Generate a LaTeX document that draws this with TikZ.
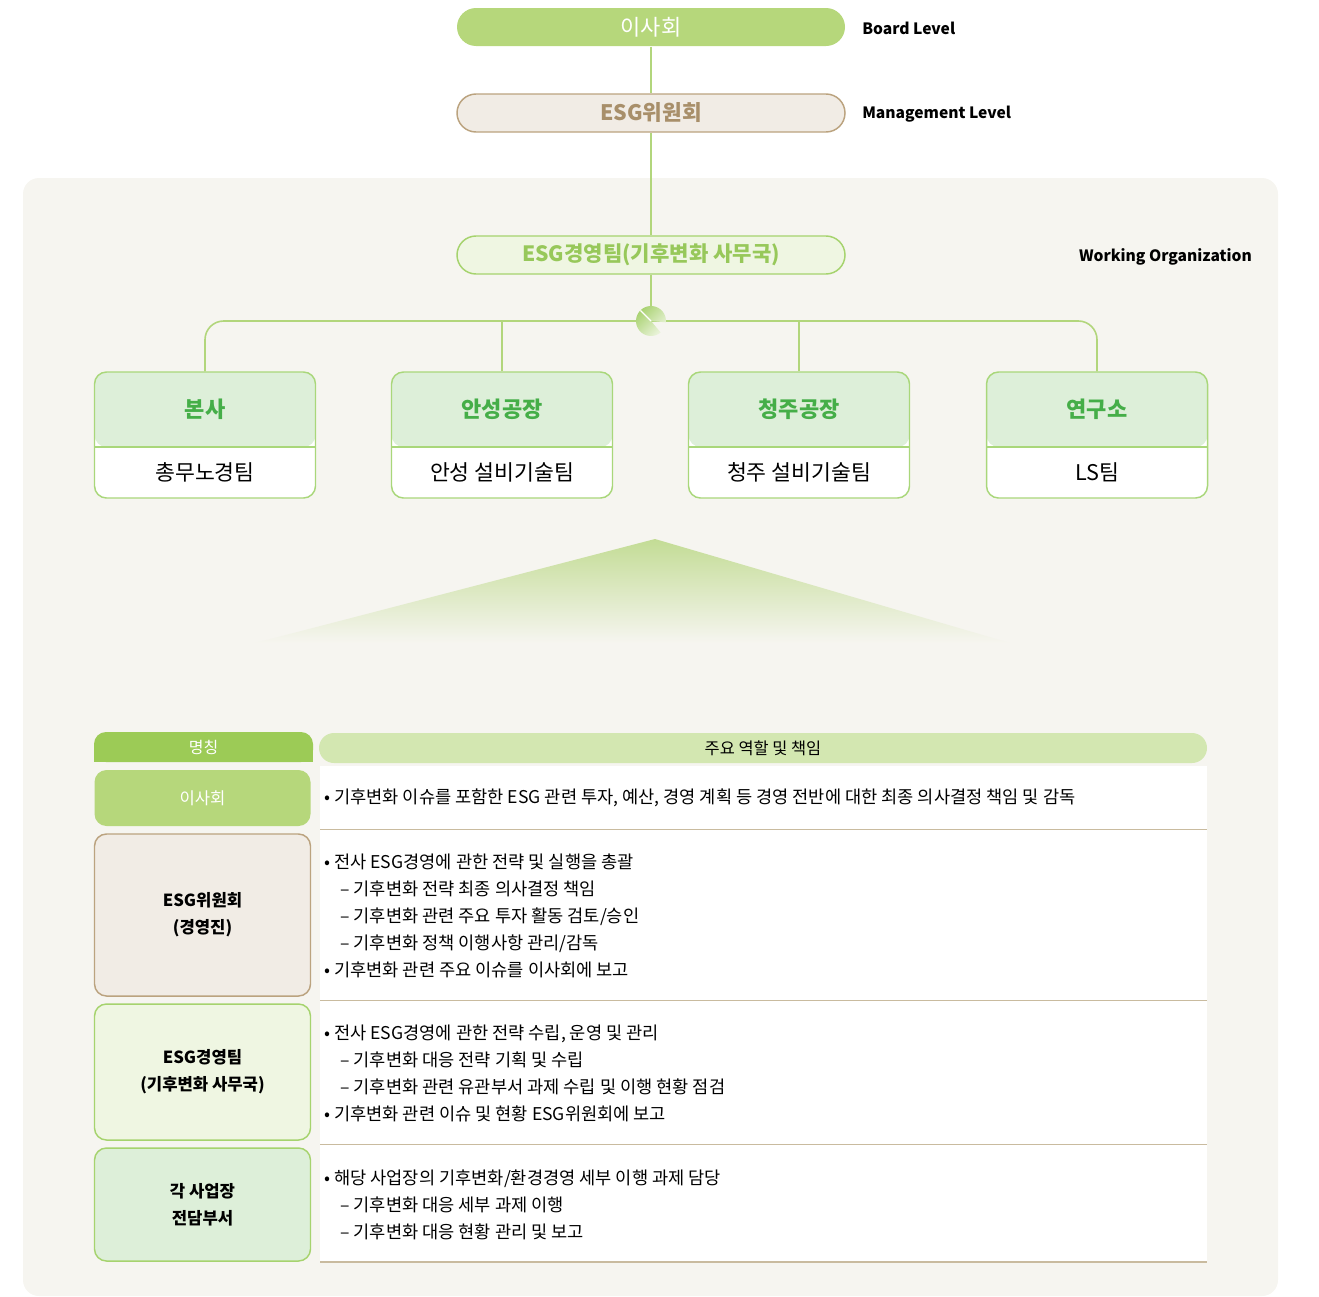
\documentclass[tikz,border=0pt]{standalone}
\usepackage{fontspec}
\setmainfont{Noto Sans CJK KR}
\usetikzlibrary{calc}
\definecolor{panelbg}{HTML}{F6F5F0}
\definecolor{boardgreen}{HTML}{B6D77B}
\definecolor{linkgreen}{HTML}{B2D67C}
\definecolor{tanfill}{HTML}{F1ECE5}
\definecolor{tanline}{HTML}{BBA37F}
\definecolor{tantext}{HTML}{A88F6A}
\definecolor{teamfill}{HTML}{EFF6E2}
\definecolor{teamline}{HTML}{A6D36E}
\definecolor{teamtext}{HTML}{97C85A}
\definecolor{boxtop}{HTML}{DDEFD9}
\definecolor{boxline}{HTML}{A9D77A}
\definecolor{titlegreen}{HTML}{45AE48}
\definecolor{hdrdark}{HTML}{9CCB56}
\definecolor{hdrlight}{HTML}{D3E7B1}
\definecolor{rowline}{HTML}{C9BB9F}
\definecolor{fadegreen}{HTML}{C3DC95}
\definecolor{hubgreen}{HTML}{A5D06B}

\begin{document}
\begin{tikzpicture}[x=0.75pt,y=-0.75pt,
  link/.style={draw=linkgreen,line width=1.2pt},
  pill/.style={rounded corners=14.25pt,minimum width=291pt,minimum height=28.5pt,
    inner sep=0pt,line width=1.1pt},
  levellabel/.style={anchor=west,inner sep=0pt,font=\bfseries\fontsize{11.7}{14}\selectfont},
  orgbox/.style={draw=boxline,line width=1.1pt,fill=white,rounded corners=9pt,
    minimum width=165.75pt,minimum height=94.5pt,inner sep=0pt,
    path picture={
      \fill[boxtop] (path picture bounding box.north west) rectangle
        ($(path picture bounding box.north east)+(0,75)$);
      \draw[boxline,line width=1.1pt] ($(path picture bounding box.north west)+(0,75)$)
        -- ($(path picture bounding box.north east)+(0,75)$);}},
  orgtitle/.style={inner sep=0pt,text=titlegreen,font=\bfseries\fontsize{16.5}{18}\selectfont},
  orgname/.style={inner sep=0pt,font=\fontsize{16.2}{18}\selectfont},
  namebox/.style={rounded corners=9pt,minimum width=162pt,inner sep=0pt,line width=1.1pt,
    align=center,font=\bfseries\fontsize{12.5}{20.25}\selectfont},
  duty/.style={anchor=west,inner sep=0pt,align=left,font=\fontsize{13.2}{20.25}\selectfont}
]
\useasboundingbox (0,0) rectangle (1319,1296);
% working organization panel
\fill[panelbg,rounded corners=12pt] (23,178) rectangle (1278,1296);

% governance levels
\node[pill,fill=boardgreen,text=white,font=\fontsize{16.5}{18}\selectfont] (board) at (651,27) {이사회};
\node[pill,fill=tanfill,draw=tanline,text=tantext,font=\bfseries\fontsize{16}{18}\selectfont] (committee) at (651,113) {ESG위원회};
\node[pill,fill=teamfill,draw=teamline,text=teamtext,font=\bfseries\fontsize{15.8}{18}\selectfont] (esgteam) at (651,255) {ESG경영팀(기후변화 사무국)};
\node[levellabel] (boardlvl) at (862,28) {Board Level};
\node[levellabel] (mgmtlvl) at (862,114) {Management Level};
\node[levellabel,anchor=east] (worklvl) at (1252,257) {Working Organization};

% sites
\node[orgbox] (hq) at (205,435) {};
\node[orgbox] (anseong) at (502,435) {};
\node[orgbox] (cheongju) at (799,435) {};
\node[orgbox] (lab) at (1097,435) {};
\node[orgtitle] (hqtitle) at ($(hq.north)+(0,38)$) {본사};
\node[orgtitle] (anseongtitle) at ($(anseong.north)+(0,38)$) {안성공장};
\node[orgtitle] (cheongjutitle) at ($(cheongju.north)+(0,38)$) {청주공장};
\node[orgtitle] (labtitle) at ($(lab.north)+(0,38)$) {연구소};
\node[orgname] (hqname) at ($(hq.south)+(0,-26)$) {총무노경팀};
\node[orgname] (anseongname) at ($(anseong.south)+(0,-26)$) {안성 설비기술팀};
\node[orgname] (cheongjuname) at ($(cheongju.south)+(0,-26)$) {청주 설비기술팀};
\node[orgname] (labname) at ($(lab.south)+(0,-26)$) {LS팀};

% connectors
\coordinate (hub) at (651,321);
\draw[link] (board) -- (committee);
\draw[link] (committee) -- (esgteam);
\draw[link] (esgteam) -- (hub);
\draw[link,rounded corners=14pt] (hq.north) |- (hub) -| (lab.north);
\draw[link] (anseong.north) -- (anseong.north |- hub);
\draw[link] (cheongju.north) -- (cheongju.north |- hub);
\shade[left color=hubgreen,right color=teamfill,shading angle=45]
  (hub) -- ($(hub)+(50:15)$) arc[start angle=50,end angle=365,radius=15] -- cycle;
\draw[white,line width=1pt] (hub) -- ++(225:15);

% fading triangle
\shade[top color=fadegreen,bottom color=panelbg] (655,539) -- (1010,643) -- (255,643) -- cycle;

% table header
\fill[hdrdark] (94,747) rectangle (313,762);
\node[rounded corners=9pt,fill=hdrdark,minimum width=164.25pt,minimum height=22.5pt,inner sep=0pt,
  text=white,font=\fontsize{12}{14}\selectfont] (hdrname) at (203.5,747) {명칭};
\node[rounded corners=11.25pt,fill=hdrlight,minimum width=666pt,minimum height=22.5pt,inner sep=0pt,
  font=\fontsize{12.3}{14}\selectfont] (hdrrole) at (763,748) {주요 역할 및 책임};

% table rows
\fill[white] (320,766) rectangle (1207,1262);
\foreach \yy in {829.5,1000.5,1144.5,1262}
  \draw[rowline,line width=1pt] (320,\yy) -- (1207,\yy);
\node[namebox,fill=boardgreen,text=white,minimum height=42pt,font=\fontsize{12.5}{20.25}\selectfont] (n1) at (202.5,798) {이사회};
\node[namebox,fill=tanfill,draw=tanline,minimum height=121.5pt] (n2) at (202.5,915) {ESG위원회\\(경영진)};
\node[namebox,fill=teamfill,draw=teamline,minimum height=102pt] (n3) at (202.5,1072) {ESG경영팀\\(기후변화 사무국)};
\node[namebox,fill=boxtop,draw=teamline,minimum height=84.75pt] (n4) at (202.5,1204.5) {각 사업장\\전담부서};

\node[duty] (d1) at (324,798) {• 기후변화 이슈를 포함한 ESG 관련 투자, 예산, 경영 계획 등 경영 전반에 대한 최종 의사결정 책임 및 감독};
\node[duty] (d2) at (324,916) {• 전사 ESG경영에 관한 전략 및 실행을 총괄\\
  \hspace*{12pt}– 기후변화 전략 최종 의사결정 책임\\
  \hspace*{12pt}– 기후변화 관련 주요 투자 활동 검토/승인\\
  \hspace*{12pt}– 기후변화 정책 이행사항 관리/감독\\
  • 기후변화 관련 주요 이슈를 이사회에 보고};
\node[duty] (d3) at (324,1073.5) {• 전사 ESG경영에 관한 전략 수립, 운영 및 관리\\
  \hspace*{12pt}– 기후변화 대응 전략 기획 및 수립\\
  \hspace*{12pt}– 기후변화 관련 유관부서 과제 수립 및 이행 현황 점검\\
  • 기후변화 관련 이슈 및 현황 ESG위원회에 보고};
\node[duty] (d4) at (324,1204.5) {• 해당 사업장의 기후변화/환경경영 세부 이행 과제 담당\\
  \hspace*{12pt}– 기후변화 대응 세부 과제 이행\\
  \hspace*{12pt}– 기후변화 대응 현황 관리 및 보고};
\end{tikzpicture}
\end{document}
